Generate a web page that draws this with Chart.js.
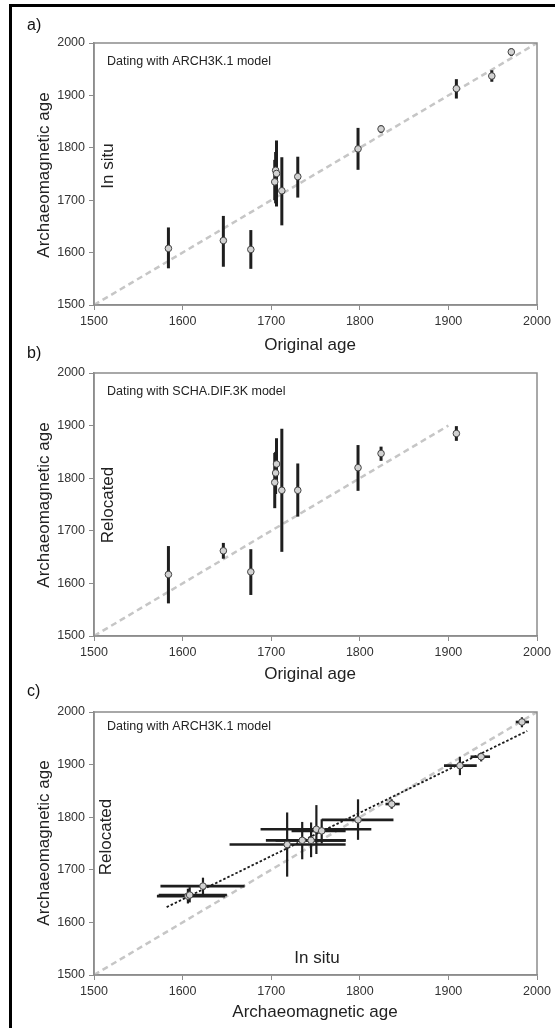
<!DOCTYPE html>
<html>
<head>
<meta charset="utf-8">
<script src="https://cdn.jsdelivr.net/npm/chart.js@4/dist/chart.umd.min.js"></script>
<style>
  html, body { margin: 0; padding: 0; background: #fff; }
  body { width: 555px; height: 1028px; position: relative; overflow: hidden; }
  canvas { position: absolute; left: 0; }
  #frame { position: absolute; left: 9px; top: 4px; width: 700px; height: 1200px;
           border-top: 3px solid #000; border-left: 3px solid #000; }
</style>
</head>
<body>
<div id="frame"></div>
<canvas id="chart-a" width="555" height="360" style="top:0px"></canvas>
<canvas id="chart-b" width="555" height="360" style="top:340px"></canvas>
<canvas id="chart-c" width="555" height="348" style="top:680px"></canvas>
<script>
(function () {
  "use strict";

  // Ticks and reference lines (1:1)
  const TICKS = [1500, 1600, 1700, 1800, 1900, 2000];
  const DIAG_A = [1500, 2000];
  const DIAG_B = [1500, 1900];

  // a) in situ, ARCH3K.1
  const ORIG_A = [1584, 1646, 1677, 1704, 1705, 1706, 1712, 1730, 1798, 1824, 1909, 1949, 1971];
  const INSITU = [1608, 1623, 1606, 1735, 1757, 1751, 1718, 1745, 1798, 1836, 1913, 1937, 1983];
  const INSITU_LO = [1570, 1573, 1569, 1700, 1694, 1688, 1652, 1705, 1758, 1828, 1894, 1926, 1975];
  const INSITU_HI = [1648, 1670, 1643, 1777, 1792, 1814, 1782, 1783, 1838, 1843, 1931, 1948, 1990];

  // b) relocated, SCHA.DIF.3K
  const ORIG_B = [1584, 1646, 1677, 1704, 1705, 1706, 1712, 1730, 1798, 1824, 1909];
  const SCHA = [1617, 1662, 1622, 1792, 1810, 1827, 1777, 1777, 1820, 1847, 1885];
  const SCHA_LO = [1562, 1647, 1578, 1743, 1770, 1790, 1660, 1727, 1776, 1833, 1871];
  const SCHA_HI = [1671, 1677, 1665, 1848, 1850, 1876, 1894, 1828, 1863, 1860, 1899];

  // c) relocated vs in situ, ARCH3K.1
  const C_INSITU = [1606, 1608, 1623, 1718, 1735, 1745, 1751, 1757, 1798, 1836, 1913, 1937, 1983];
  const C_INSITU_LO = [1571, 1573, 1575, 1653, 1694, 1705, 1688, 1723, 1757, 1829, 1895, 1925, 1976];
  const C_INSITU_HI = [1648, 1650, 1670, 1784, 1784, 1784, 1813, 1784, 1838, 1845, 1932, 1947, 1991];
  const C_RELOC = [1650, 1652, 1669, 1748, 1756, 1756, 1777, 1774, 1795, 1825, 1898, 1915, 1981];
  const C_RELOC_LO = [1636, 1638, 1654, 1687, 1720, 1724, 1730, 1750, 1757, 1816, 1880, 1906, 1971];
  const C_RELOC_HI = [1664, 1667, 1685, 1809, 1791, 1790, 1823, 1796, 1834, 1834, 1915, 1923, 1990];

  // regression line ends (panel c)
  const FIT_X = [1582, 1989];
  const FIT_Y = [1629, 1964];

  const FONT = "'Liberation Sans', Arial, sans-serif";

  // box around the plot area (Chart.js only draws left/bottom borders)
  const boxPlugin = {
    id: "box",
    afterDraw(chart) {
      const { ctx, chartArea: a } = chart;
      ctx.save();
      ctx.strokeStyle = "#8c8c8c";
      ctx.lineWidth = 1.5;
      ctx.strokeRect(a.left, a.top, a.right - a.left, a.bottom - a.top);
      ctx.restore();
    },
  };

  // error bars, drawn just before the point dataset (index 0)
  const errorBarPlugin = {
    id: "errorBars",
    beforeDatasetDraw(chart, args, opts) {
      if (args.index !== 0) return;
      const { ctx, chartArea: a, scales } = chart;
      ctx.save();
      ctx.beginPath();
      ctx.rect(a.left, a.top, a.right - a.left, a.bottom - a.top);
      ctx.clip();
      ctx.strokeStyle = opts.color;
      ctx.lineCap = "butt";
      ctx.lineWidth = opts.hWidth;
      (opts.h || []).forEach((b) => {
        const py = scales.y.getPixelForValue(b.y);
        ctx.beginPath();
        ctx.moveTo(scales.x.getPixelForValue(b.lo), py);
        ctx.lineTo(scales.x.getPixelForValue(b.hi), py);
        ctx.stroke();
      });
      ctx.lineWidth = opts.vWidth;
      (opts.v || []).forEach((b) => {
        const px = scales.x.getPixelForValue(b.x);
        ctx.beginPath();
        ctx.moveTo(px, scales.y.getPixelForValue(b.lo));
        ctx.lineTo(px, scales.y.getPixelForValue(b.hi));
        ctx.stroke();
      });
      ctx.restore();
    },
  };

  // free text (panel letters, notes, axis titles) in page coordinates
  const textPlugin = {
    id: "texts",
    afterDraw(chart, args, opts) {
      const ctx = chart.ctx;
      opts.items.forEach((t) => {
        ctx.save();
        ctx.translate(t.x, t.y - opts.top);
        if (t.rot) ctx.rotate(t.rot);
        ctx.font = `${t.size}px ${FONT}`;
        ctx.fillStyle = t.color || "#222";
        ctx.textAlign = t.align || "center";
        ctx.textBaseline = "middle";
        ctx.fillText(t.text, 0, 0);
        ctx.restore();
      });
    },
  };

  function axis(afterFit) {
    return {
      type: "linear",
      min: 1500,
      max: 2000,
      afterBuildTicks: (s) => {
        s.ticks = TICKS.map((v) => ({ value: v }));
      },
      afterFit,
      ticks: {
        callback: (v) => String(v),
        color: "#333",
        padding: 4,
        font: { family: FONT, size: 12.5 },
      },
      grid: { drawOnChartArea: false, drawTicks: true, tickLength: 5, color: "#8c8c8c", lineWidth: 1 },
      border: { display: true, color: "#8c8c8c", width: 1.5 },
    };
  }

  function diag(ends, dash) {
    return {
      type: "line",
      data: ends.map((v) => ({ x: v, y: v })),
      borderColor: "#c6c6c6",
      borderWidth: 2.5,
      borderDash: dash,
      pointRadius: 0,
      fill: false,
    };
  }

  function points(xs, ys) {
    return {
      type: "scatter",
      data: xs.map((x, i) => ({ x, y: ys[i] })),
      pointRadius: 3.3,
      backgroundColor: "#d2d2d2",
      borderColor: "#444",
      borderWidth: 1,
    };
  }

  function panel(id, top, plotTop, plotBottom, datasets, bars, items) {
    const canvas = document.getElementById(id);
    const H = canvas.height;
    return new Chart(canvas, {
      type: "scatter",
      data: { datasets },
      options: {
        responsive: false,
        animation: false,
        devicePixelRatio: 1,
        layout: { padding: { top: plotTop - top, right: 18, left: 0, bottom: 0 } },
        plugins: {
          legend: { display: false },
          tooltip: { enabled: false },
          errorBars: bars,
          texts: { items, top },
        },
        scales: {
          x: axis((s) => { s.height = top + H - plotBottom; }),
          y: axis((s) => { s.width = 94; }),
        },
      },
      plugins: [errorBarPlugin, boxPlugin, textPlugin],
    });
  }

  const UP = -Math.PI / 2;

  // a)
  panel("chart-a", 0, 43, 305,
    [points(ORIG_A, INSITU), diag(DIAG_A, [6, 4])],
    {
      color: "#1e1e1e", vWidth: 3, hWidth: 3,
      v: ORIG_A.map((x, i) => ({ x, lo: INSITU_LO[i], hi: INSITU_HI[i] })),
    },
    [
      { text: "a)", x: 27, y: 26, size: 16, align: "left", color: "#111" },
      { text: "Dating with ARCH3K.1 model", x: 107, y: 62, size: 12.5, align: "left" },
      { text: "Archaeomagnetic age", x: 44, y: 175, size: 17, rot: UP },
      { text: "In situ", x: 108, y: 166, size: 17, rot: UP },
      { text: "Original age", x: 310, y: 345, size: 17 },
    ]);

  // b)
  panel("chart-b", 340, 373, 636,
    [points(ORIG_B, SCHA), diag(DIAG_B, [6, 4])],
    {
      color: "#1e1e1e", vWidth: 3, hWidth: 3,
      v: ORIG_B.map((x, i) => ({ x, lo: SCHA_LO[i], hi: SCHA_HI[i] })),
    },
    [
      { text: "b)", x: 27, y: 354, size: 16, align: "left", color: "#111" },
      { text: "Dating with SCHA.DIF.3K model", x: 107, y: 392, size: 12.5, align: "left" },
      { text: "Archaeomagnetic age", x: 44, y: 505, size: 17, rot: UP },
      { text: "Relocated", x: 108, y: 505, size: 17, rot: UP },
      { text: "Original age", x: 310, y: 674, size: 17 },
    ]);

  // c)
  const fit = {
    type: "line",
    data: FIT_X.map((x, i) => ({ x, y: FIT_Y[i] })),
    borderColor: "#1a1a1a",
    borderWidth: 1.8,
    borderDash: [2.5, 2],
    pointRadius: 0,
    fill: false,
  };
  panel("chart-c", 680, 712, 975,
    [points(C_INSITU, C_RELOC), fit, diag(DIAG_A, [6, 4])],
    {
      color: "#1e1e1e", vWidth: 2.2, hWidth: 2.6,
      v: C_INSITU.map((x, i) => ({ x, lo: C_RELOC_LO[i], hi: C_RELOC_HI[i] })),
      h: C_RELOC.map((y, i) => ({ y, lo: C_INSITU_LO[i], hi: C_INSITU_HI[i] })),
    },
    [
      { text: "c)", x: 27, y: 692, size: 16, align: "left", color: "#111" },
      { text: "Dating with ARCH3K.1 model", x: 107, y: 727, size: 12.5, align: "left" },
      { text: "Archaeomagnetic age", x: 44, y: 843, size: 17, rot: UP },
      { text: "Relocated", x: 106, y: 837, size: 17, rot: UP },
      { text: "In situ", x: 317, y: 958, size: 17 },
      { text: "Archaeomagnetic age", x: 315, y: 1012, size: 17 },
    ]);
})();
</script>
</body>
</html>
